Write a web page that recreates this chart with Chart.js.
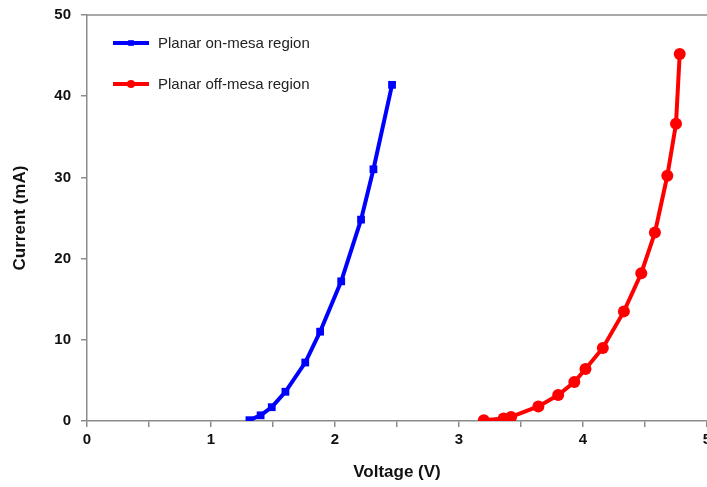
<!DOCTYPE html>
<html>
<head>
<meta charset="utf-8">
<script src="https://cdn.jsdelivr.net/npm/chart.js@4.4.1/dist/chart.umd.min.js"></script>
<style>
  body { margin: 0; background: #fff; }
  #wrap { width: 707px; height: 487px; overflow: hidden; }
  canvas { display: block; }
</style>
</head>
<body>
<div id="wrap"><canvas id="iv" width="730" height="487"></canvas></div>
<script>
// I-V curves, voltage (V) vs current (mA)
const onMesaVoltage = [1.31, 1.40, 1.49, 1.60, 1.76, 1.88, 2.05, 2.21, 2.31, 2.46];
const onMesaCurrent = [0.1, 0.7, 1.7, 3.6, 7.2, 11.0, 17.2, 24.8, 31.0, 41.4];

const offMesaVoltage = [3.20, 3.36, 3.42, 3.64, 3.80, 3.93, 4.02, 4.16, 4.33, 4.47, 4.58, 4.68, 4.75, 4.78];
const offMesaCurrent = [0.1, 0.3, 0.5, 1.8, 3.2, 4.8, 6.4, 9.0, 13.5, 18.2, 23.2, 30.2, 36.6, 45.2];

const seriesNames = ['Planar on-mesa region', 'Planar off-mesa region'];
const seriesColors = ['#0000ff', '#ff0000'];
const seriesMarkers = ['rect', 'circle'];

const pairs = (xs, ys) => xs.map((x, i) => ({x: x, y: ys[i]}));

const axisGrey = '#8c8c8c';
const tickFont = {family: '"Liberation Sans", Arial, sans-serif', size: 15, weight: 'bold'};
const titleFont = {family: '"Liberation Sans", Arial, sans-serif', size: 17, weight: 'bold'};

// legend drawn inside the plot, line sample with a marker in the middle
const insideLegend = {
  id: 'insideLegend',
  afterDraw(chart) {
    const {ctx, chartArea} = chart;
    ctx.save();
    chart.data.datasets.forEach((ds, i) => {
      const y = chartArea.top + 28 + i * 41;
      const x0 = chartArea.left + 26;
      const x1 = chartArea.left + 62;
      ctx.strokeStyle = ds.borderColor;
      ctx.lineWidth = 4;
      ctx.beginPath();
      ctx.moveTo(x0, y);
      ctx.lineTo(x1, y);
      ctx.stroke();
      ctx.fillStyle = ds.borderColor;
      Chart.helpers.drawPoint(ctx, {pointStyle: ds.pointStyle, radius: 4, rotation: 0, borderWidth: 0}, (x0 + x1) / 2, y);
      ctx.fillStyle = '#222';
      ctx.font = '15px "Liberation Sans", Arial, sans-serif';
      ctx.textBaseline = 'middle';
      ctx.textAlign = 'left';
      ctx.fillText(ds.label, chartArea.left + 71, y + 1);
    });
    ctx.restore();
  }
};

// top edge of the plot frame
const frameTop = {
  id: 'frameTop',
  beforeDatasetsDraw(chart) {
    const {ctx, chartArea} = chart;
    ctx.save();
    ctx.strokeStyle = axisGrey;
    ctx.lineWidth = 1.5;
    ctx.beginPath();
    ctx.moveTo(chartArea.left, chartArea.top);
    ctx.lineTo(chartArea.right + 20, chartArea.top);
    ctx.stroke();
    ctx.restore();
  }
};

new Chart(document.getElementById('iv'), {
  type: 'line',
  data: {
    datasets: [
      {
        label: seriesNames[0],
        data: pairs(onMesaVoltage, onMesaCurrent),
        borderColor: seriesColors[0],
        backgroundColor: seriesColors[0],
        borderWidth: 4,
        pointStyle: seriesMarkers[0],
        pointRadius: 5.5,
        pointBorderWidth: 0,
        tension: 0
      },
      {
        label: seriesNames[1],
        data: pairs(offMesaVoltage, offMesaCurrent),
        borderColor: seriesColors[1],
        backgroundColor: seriesColors[1],
        borderWidth: 4,
        pointStyle: seriesMarkers[1],
        pointRadius: 6,
        pointBorderWidth: 0,
        tension: 0
      }
    ]
  },
  options: {
    responsive: false,
    animation: false,
    layout: {padding: {left: 0, right: 23, top: 15, bottom: 0}},
    plugins: {
      legend: {display: false},
      tooltip: {enabled: false}
    },
    scales: {
      x: {
        type: 'linear',
        min: 0,
        max: 5,
        afterFit(scale) { scale.height = 66; },
        ticks: {
          stepSize: 0.5,
          autoSkip: false,
          maxRotation: 0,
          padding: 4,
          color: '#111',
          font: tickFont,
          callback: v => Number.isInteger(v) ? String(v) : ''
        },
        grid: {drawOnChartArea: false, tickLength: 6, color: axisGrey, lineWidth: 1.5},
        border: {color: axisGrey, width: 1.5},
        title: {display: true, text: 'Voltage (V)', color: '#111', font: titleFont, padding: {top: 0, bottom: 4}}
      },
      y: {
        min: 0,
        max: 50,
        afterFit(scale) {
          scale.width = 87;
          scale.paddingTop = 0;
          scale.paddingBottom = 0;
        },
        ticks: {stepSize: 10, padding: 10, color: '#111', font: tickFont},
        grid: {drawOnChartArea: false, tickLength: 6, color: axisGrey, lineWidth: 1.5},
        border: {color: axisGrey, width: 1.5},
        title: {display: true, text: 'Current (mA)', color: '#111', font: titleFont, padding: {top: 10, bottom: 0}}
      }
    }
  },
  plugins: [insideLegend, frameTop]
});
</script>
</body>
</html>
